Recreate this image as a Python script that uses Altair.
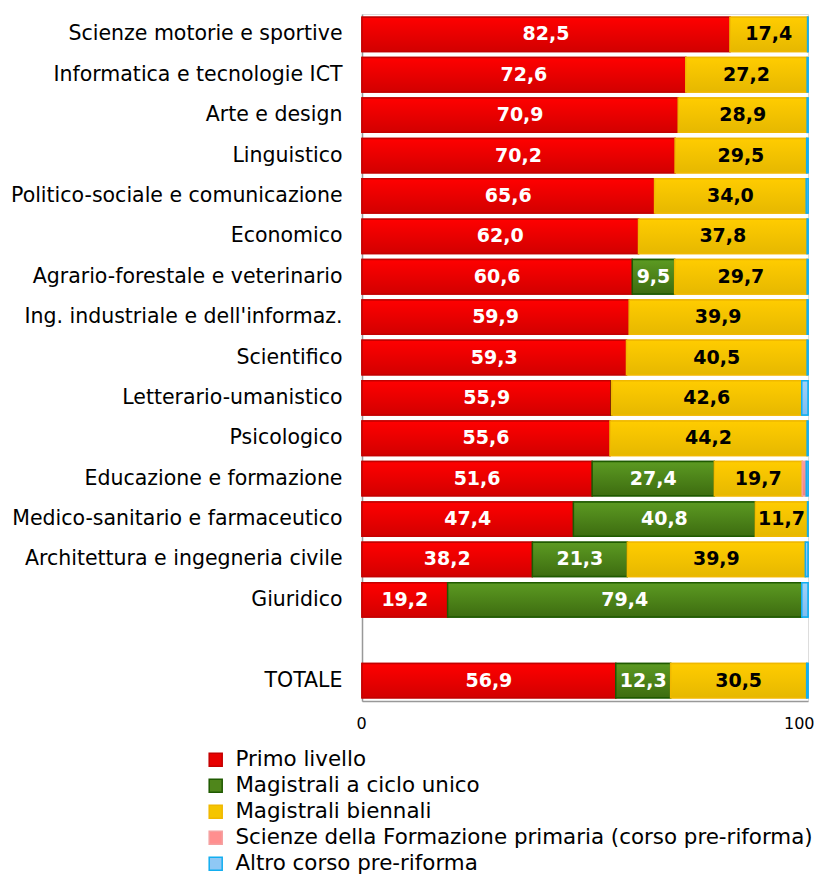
import altair as alt
import pandas as pd

categories = [
    "Scienze motorie e sportive", "Informatica e tecnologie ICT", "Arte e design",
    "Linguistico", "Politico-sociale e comunicazione", "Economico",
    "Agrario-forestale e veterinario", "Ing. industriale e dell'informaz.",
    "Scientifico", "Letterario-umanistico", "Psicologico",
    "Educazione e formazione", "Medico-sanitario e farmaceutico",
    "Architettura e ingegneria civile", "Giuridico", "TOTALE",
]
primo = [82.5, 72.6, 70.9, 70.2, 65.6, 62.0, 60.6, 59.9, 59.3, 55.9, 55.6, 51.6, 47.4, 38.2, 19.2, 56.9]
ciclo = [0, 0, 0, 0, 0, 0, 9.5, 0, 0, 0.1, 0, 27.4, 40.8, 21.3, 79.4, 12.3]
biennali = [17.4, 27.2, 28.9, 29.5, 34.0, 37.8, 29.7, 39.9, 40.5, 42.6, 44.2, 19.7, 11.7, 39.9, 0, 30.5]
sfp = [0, 0, 0, 0, 0, 0, 0, 0, 0, 0, 0, 0.9, 0, 0, 0, 0]
altro = [0.1, 0.2, 0.2, 0.3, 0.4, 0.2, 0.2, 0.2, 0.2, 1.4, 0.2, 0.4, 0.1, 0.6, 1.4, 0.3]

series = ["Primo livello", "Magistrali a ciclo unico", "Magistrali biennali",
          "Scienze della Formazione primaria (corso pre-riforma)", "Altro corso pre-riforma"]
fills = ["#e80000", "#4f861b", "#f5c500", "#ff8f8f", "#8fc8f5"]
strokes = ["#c40000", "#1f5a00", "#f0b800", "#f5a0a0", "#12aef0"]
grad_top = ["#ff0000", "#5c9a22", "#ffcc00", "#ff9c9c", "#a0d2f8"]
grad_bot = ["#d20000", "#3d6c10", "#e6b800", "#f08484", "#7fbdf0"]
text_colors = ["white", "white", "black", "black", "black"]

y_domain = categories[:15] + [" "] + ["TOTALE"]

rows = []
for s_i, (name, vals) in enumerate(zip(series, [primo, ciclo, biennali, sfp, altro])):
    for c, v in zip(categories, vals):
        if v > 0:
            rows.append({"cat": c, "serie": name, "ord": s_i, "val": v,
                         "lbl": f"{v:.1f}".replace(".", ","), "tc": text_colors[s_i],
                         "show": s_i < 3 and v >= 5})
df = pd.DataFrame(rows)

yscale = alt.Scale(domain=y_domain, paddingInner=0.15, paddingOuter=0.08)
xscale = alt.Scale(domain=[0, 100], nice=False)

yenc = alt.Y("cat:N", sort=y_domain, scale=yscale,
             axis=alt.Axis(title=None, ticks=False, labelFontSize=20.5, labelFont="DejaVu Sans",
                           labelColor="#000", labelPadding=20, domainColor="#999999",
                           domainWidth=1.5, labelLimit=400))

stacked = alt.Chart(df).transform_stack(
    stack="val", as_=["x0", "x1"], groupby=["cat"], sort=[alt.SortField("ord", "ascending")]
)

bars = stacked.mark_bar(strokeWidth=1.5).encode(
    y=yenc,
    x=alt.X("x0:Q", scale=xscale,
            axis=alt.Axis(title=None, values=[0, 100], grid=False, ticks=False,
                          labelFlush=True, labelFlushOffset=6,
                          labelFontSize=16, labelFont="DejaVu Sans", labelColor="#000",
                          labelPadding=14, domainColor="#999999", domainWidth=1.5)),
    x2="x1:Q",
    color=alt.Color("serie:N", sort=series,
                    scale=alt.Scale(domain=series, range=fills),
                    legend=alt.Legend(title=None, orient="none", legendX=-157, legendY=735,
                                      labelFontSize=21.4, labelFont="DejaVu Sans", labelColor="#000",
                                      symbolType="square", symbolSize=169, symbolStrokeWidth=1.5,
                                      labelOffset=9, rowPadding=3, labelLimit=700)),
    stroke=alt.Stroke("serie:N", sort=series,
                      scale=alt.Scale(domain=series, range=strokes), legend=None),
)

grad_layers = []
for i, name in enumerate(series):
    grad = {"gradient": "linear", "x1": 0, "y1": 0, "x2": 0, "y2": 1,
            "stops": [{"offset": 0, "color": grad_top[i]}, {"offset": 1, "color": grad_bot[i]}]}
    grad_layers.append(
        stacked.transform_filter(alt.datum.serie == name).mark_bar(
            strokeWidth=1.5, stroke=strokes[i], fill=grad
        ).encode(
            y=alt.Y("cat:N", sort=y_domain, scale=yscale),
            x=alt.X("x0:Q", scale=xscale),
            x2="x1:Q",
        )
    )

labels = stacked.transform_filter("datum.show").transform_calculate(
    mid="(datum.x0 + datum.x1) / 2"
).mark_text(fontSize=19, fontWeight="bold", font="DejaVu Sans").encode(
    y=alt.Y("cat:N", sort=y_domain, scale=yscale),
    x=alt.X("mid:Q", scale=xscale),
    text="lbl:N",
    color=alt.Color("tc:N", scale=None),
)

chart = alt.layer(bars, *grad_layers, labels).properties(
    width=446, height=687,
    autosize=alt.AutoSizeParams(type="none"),
    padding={"left": 354, "top": 6, "right": 8, "bottom": 180},
).configure_view(stroke=None).configure(background="white")

chart.save("out.html", embed_options={"renderer": "svg", "actions": False})
